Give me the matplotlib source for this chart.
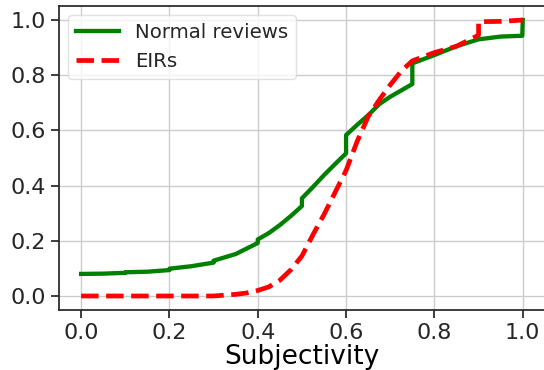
import matplotlib
matplotlib.use("Agg")
import matplotlib.pyplot as plt

# CDF of subjectivity scores, read at the grid points (repeated x = jump)
normal_x = [0.0, 0.05, 0.1, 0.1, 0.15, 0.2, 0.2, 0.25, 0.3, 0.3, 0.35, 0.375,
            0.4, 0.4, 0.425, 0.45, 0.475, 0.5, 0.5, 0.525, 0.55, 0.575, 0.6,
            0.6, 0.625, 0.65, 0.675, 0.7, 0.725, 0.75, 0.75, 0.8, 0.85, 0.9,
            0.95, 0.999, 1.0]
normal_y = [0.080, 0.081, 0.084, 0.086, 0.088, 0.094, 0.099, 0.108, 0.121,
            0.128, 0.152, 0.172, 0.192, 0.205, 0.228, 0.257, 0.29, 0.326,
            0.354, 0.395, 0.438, 0.478, 0.517, 0.583, 0.62, 0.655, 0.695,
            0.722, 0.745, 0.768, 0.843, 0.873, 0.905, 0.93, 0.94, 0.943, 1.0]

eir_x = [0.0, 0.3, 0.35, 0.375, 0.4, 0.425, 0.45, 0.475, 0.5, 0.525, 0.55,
         0.575, 0.6, 0.625, 0.65, 0.675, 0.7, 0.725, 0.75, 0.8, 0.85, 0.9,
         0.9, 0.95, 1.0]
eir_y = [0.0, 0.0, 0.006, 0.011, 0.02, 0.033, 0.057, 0.095, 0.145, 0.222,
         0.295, 0.375, 0.455, 0.56, 0.65, 0.71, 0.765, 0.815, 0.852, 0.882,
         0.905, 0.945, 0.994, 0.995, 1.0]

x_ticks = [0.0, 0.2, 0.4, 0.6, 0.8, 1.0]
y_ticks = [0.0, 0.2, 0.4, 0.6, 0.8, 1.0]

plt.rcParams.update({
    "font.family": ["DejaVu Sans"],
    "axes.edgecolor": "#262626",
    "axes.linewidth": 1.25,
    "text.color": "#262626",
    "xtick.color": "#262626",
    "ytick.color": "#262626",
    "grid.color": "#cccccc",
    "grid.linewidth": 1.0,
})

fig = plt.figure(figsize=(5.44, 3.70), dpi=100)
ax = fig.add_axes([0.1085, 0.1627, 0.893, 0.8205])

ax.plot(normal_x, normal_y, color="green", lw=3.1, label="Normal reviews")
ax.plot(eir_x, eir_y, color="red", lw=3.4, ls="--", label="EIRs")

ax.set_xlim(-0.05, 1.05)
ax.set_ylim(-0.05, 1.05)
ax.set_xticks(x_ticks)
ax.set_yticks(y_ticks)
ax.tick_params(labelsize=16, length=6, width=1.25)
ax.grid(True)
ax.set_axisbelow(True)
ax.set_xlabel("Subjectivity", fontsize=19, labelpad=1)

leg = ax.legend(loc="upper left", fontsize=14.2, frameon=True,
                handlelength=2.2, borderaxespad=0.45)
leg.get_frame().set_edgecolor("#d9d9d9")

fig.savefig("out.png", dpi=100)
